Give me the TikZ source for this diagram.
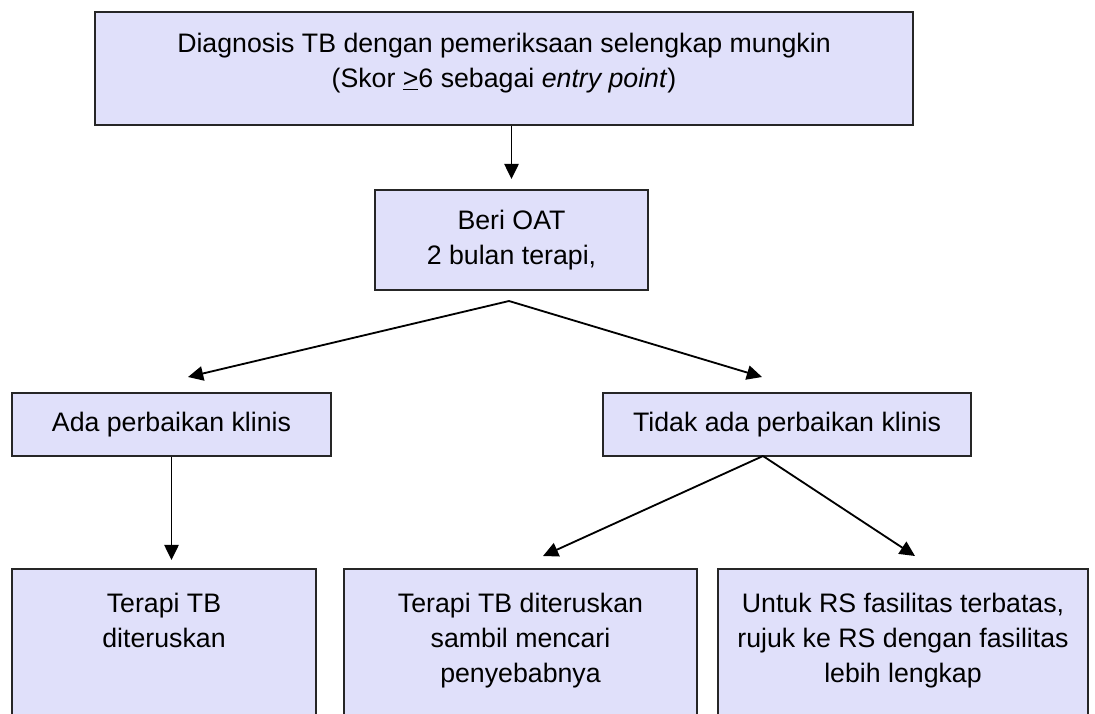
\documentclass[tikz,border=0pt]{standalone}
\usepackage{fontspec}
\setmainfont{Liberation Sans}
\usetikzlibrary{arrows.meta}
\definecolor{boxfill}{RGB}{224,224,250}
\tikzset{
  block/.style={rectangle, draw=black!85, line width=1.4pt, fill=boxfill,
                inner sep=0pt, align=center,
                font=\fontsize{19}{25}\selectfont},
  openblock/.style={block, anchor=north, inner ysep=0.6cm, text depth=4cm},
  arrow/.style={-{Triangle[length=3.8mm,width=3.6mm]}, line width=1.3pt}
}

\begin{document}
\begin{tikzpicture}[x=0.025cm, y=-0.025cm]
\useasboundingbox (0,0) rectangle (1095,713);
\clip (0,0) rectangle (1095,713);

% Row 1: diagnosis
\node[block, minimum width=20.45cm, minimum height=2.825cm, text depth=0.4cm] (Diag) at (504,68.5)
  {Diagnosis TB dengan pemeriksaan selengkap mungkin\\(Skor \underline{>}6 sebagai \textit{entry point})};

% Row 2: OAT
\node[block, minimum width=6.825cm, minimum height=2.5cm] (OAT) at (511.5,240)
  {Beri OAT\\2 bulan terapi,};

% Row 3: clinical response
\node[block, minimum width=7.975cm, minimum height=1.575cm] (Ada) at (171.5,424.5)
  {Ada perbaikan klinis};
\node[block, minimum width=9.2cm, minimum height=1.575cm] (Tidak) at (787,424.5)
  {Tidak ada perbaikan klinis};

% Row 4: follow-up (boxes run off the page)
\node[openblock, minimum width=7.6cm] (Lanjut) at (164,568)
  {Terapi TB\\diteruskan};
\node[openblock, minimum width=8.825cm] (Cari) at (520.5,568)
  {Terapi TB diteruskan\\sambil mencari\\penyebabnya};
\node[openblock, minimum width=9.25cm] (Rujuk) at (903,568)
  {Untuk RS fasilitas terbatas,\\rujuk ke RS dengan fasilitas\\lebih lengkap};

% --- Connections ---
\coordinate (Split) at (509,301);
\coordinate (AdaIn) at (188,377);
\coordinate (TidakIn) at (762,377);
\coordinate (Fork) at (763,456);
\coordinate (CariIn) at (543,556);
\coordinate (RujukIn) at (915,556);

% Diag -> OAT
\draw[arrow, shorten >=0.25cm] (OAT.north |- Diag.south) -- (OAT.north);

% OAT -> Ada / Tidak
\draw[arrow] (Split) -- (AdaIn);
\draw[arrow] (Split) -- (TidakIn);

% Ada -> Lanjut
\draw[arrow, shorten >=0.2cm] (Ada.south) -- (Ada.south |- Lanjut.north);

% Tidak -> Cari / Rujuk
\draw[arrow] (Fork) -- (CariIn);
\draw[arrow] (Fork) -- (RujukIn);

\end{tikzpicture}
\end{document}
